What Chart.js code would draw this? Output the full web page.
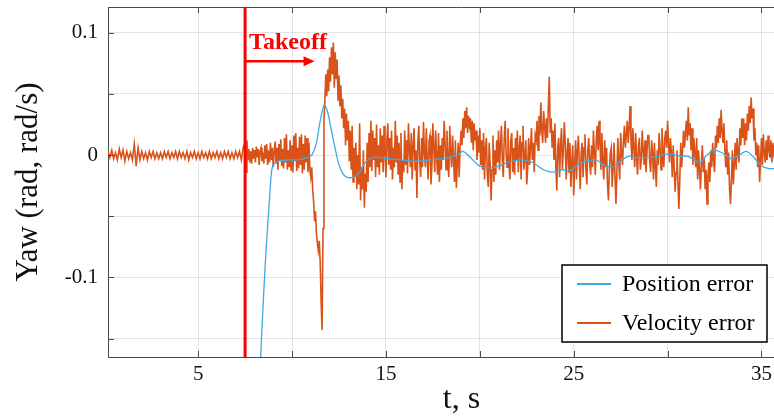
<!DOCTYPE html>
<html>
<head>
<meta charset="utf-8">
<script src="https://cdn.jsdelivr.net/npm/chart.js@4"></script>
<style>
  html, body { margin: 0; padding: 0; background: #fff; overflow: hidden; }
  #wrap { width: 774px; height: 419px; overflow: hidden; }
  canvas { display: block; }
</style>
</head>
<body>
<div id="wrap"><canvas id="chart" width="815" height="419"></canvas></div>
<script>
// position error (t, rad)
const posT = [8.1, 8.2, 8.33, 8.5, 8.65, 8.8, 8.9, 9.0, 9.3, 9.8, 10.3, 10.8, 11.05, 11.3, 11.5, 11.72, 11.9, 12.1, 12.3, 12.5, 12.7, 12.9, 13.3, 13.6, 13.9, 14.3, 14.7, 15.2, 15.8, 16.5, 17.3, 18.3, 18.8, 19.1, 19.5, 19.9, 20.2, 20.8, 21.5, 22.2, 22.8, 23.4, 23.9, 24.4, 24.8, 25.2, 25.7, 26.2, 26.6, 27.0, 27.4, 27.9, 28.4, 28.9, 29.5, 30.0, 30.7, 31.1, 31.7, 32.1, 32.5, 33.0, 33.4, 33.8, 34.2, 34.6, 35.0, 35.4, 35.8];
const posErr = [-0.26, -0.21, -0.165, -0.11, -0.07, -0.036, -0.015, -0.008, -0.005, -0.004, -0.004, -0.002, 0.0, 0.01, 0.028, 0.041, 0.035, 0.02, 0.005, -0.008, -0.015, -0.018, -0.018, -0.014, -0.006, -0.002, -0.002, -0.003, -0.004, -0.005, -0.004, -0.002, 0.0, 0.003, -0.002, -0.008, -0.010, -0.010, -0.006, -0.004, -0.006, -0.012, -0.014, -0.012, -0.013, -0.008, -0.005, -0.004, -0.008, -0.010, -0.006, -0.001, -0.002, -0.002, -0.001, 0.001, -0.001, -0.001, -0.006, 0.0, 0.004, 0.001, -0.003, 0.0, 0.003, -0.002, -0.009, -0.011, -0.011];

// velocity error on the ground, every 0.1 s from t = 0.2 s
const groundT0 = 0.2;
const groundDt = 0.1;
const velErrGround = [
  0.003, -0.002, 0.004, -0.003, 0.002, -0.004, 0.005, -0.002,
  0.004, -0.005, 0.003, -0.003, 0.002, -0.004, 0.009, -0.009, 0.006, -0.004,
  0.003, -0.003, 0.002, -0.004, 0.003, -0.002, 0.003, -0.003, 0.002, -0.003,
  0.002, -0.003, 0.003, -0.002, 0.003, -0.003, 0.002, -0.002, 0.003, -0.003,
  0.003, -0.002, 0.002, -0.003, 0.003, -0.004, 0.002, -0.002, 0.003, -0.003,
  0.002, -0.003, 0.003, -0.002, 0.002, -0.003, 0.003, -0.003, 0.002, -0.002,
  0.003, -0.003, 0.002, -0.003, 0.003, -0.002, 0.003, -0.003, 0.002, -0.003,
  0.003, -0.002, 0.003, -0.004, 0.006
];

// velocity error in flight, every 0.05 s from t = 7.5 s
const flightT0 = 7.5;
const flightDt = 0.05;
const velErrFlight = [
  0.010, -0.014, 0.012, -0.004, 0.005, -0.006, 0.003, -0.007, 0.006, -0.003,
  0.004, -0.006, 0.007, -0.002, 0.005, -0.008, 0.003, 0.006, -0.005, 0.002,
  -0.007, 0.008, -0.003, 0.009, -0.008, 0.004, -0.006, 0.010, -0.004, 0.006,
  -0.010, 0.003, 0.011, -0.007, 0.006, -0.012, 0.009, -0.004, 0.013, -0.009,
  0.005, -0.011, 0.014, -0.006, 0.017, -0.012, 0.004, -0.010, 0.012, -0.013,
  0.008, -0.014, 0.016, -0.005, 0.018, -0.013, 0.006, -0.011, 0.015, -0.008,
  0.017, -0.015, 0.009, -0.012, 0.016, -0.006, 0.014, -0.014, 0.010, -0.012,
  -0.018, -0.010, -0.028, -0.038, -0.054, -0.046, -0.064, -0.072, -0.078, -0.070,
  -0.088, -0.120, -0.143, -0.060, 0.028, 0.045, 0.066, 0.048, 0.070, 0.052,
  0.080, 0.060, 0.088, 0.066, 0.092, 0.055, 0.084, 0.062, 0.078, 0.045,
  0.065, 0.040, 0.057, 0.030, 0.046, 0.022, 0.038, 0.008, 0.034, 0.012,
  0.028, -0.005, 0.020, -0.012, 0.024, -0.022, 0.006, -0.018, 0.010, -0.028,
  0.000, -0.024, 0.026, -0.037, -0.010, -0.028, 0.004, -0.043, -0.015, -0.030,
  0.010, -0.022, 0.018, -0.010, 0.028, -0.013, 0.020, -0.004, 0.014, -0.018,
  0.025, -0.010, 0.008, -0.016, 0.022, -0.006, 0.016, -0.014, 0.024, 0.002,
  -0.018, 0.012, 0.026, -0.008, 0.014, -0.012, 0.020, -0.020, 0.006, -0.010,
  0.028, -0.006, 0.016, -0.016, 0.010, -0.022, 0.018, -0.028, -0.004, -0.014,
  0.020, -0.008, 0.012, -0.015, 0.026, 0.004, -0.010, 0.018, -0.020, 0.008,
  0.022, -0.012, 0.004, -0.035, 0.010, 0.024, -0.006, -0.018, 0.014, -0.010,
  0.027, 0.002, -0.010, 0.022, -0.004, -0.020, 0.012, 0.016, -0.024, -0.008,
  0.026, 0.006, -0.014, 0.020, -0.002, -0.016, 0.018, -0.022, 0.008, -0.012,
  0.014, -0.004, 0.028, 0.010, -0.012, 0.020, -0.006, -0.018, 0.024, 0.002,
  -0.010, 0.016, -0.004, -0.022, 0.012, -0.027, -0.008, 0.010, -0.018, 0.006,
  0.020, 0.008, 0.030, 0.014, 0.036, 0.022, 0.039, 0.018, 0.032, 0.024,
  0.030, 0.010, 0.028, 0.004, 0.026, 0.012, 0.020, -0.004, 0.016, 0.002,
  0.022, -0.008, 0.012, -0.012, 0.018, -0.020, 0.006, 0.014, -0.016, -0.026,
  0.010, -0.008, -0.037, -0.012, 0.016, -0.022, 0.004, -0.016, 0.012, -0.006,
  0.020, -0.012, 0.008, 0.024, -0.004, -0.018, 0.014, 0.028, 0.002, -0.010,
  0.022, -0.006, -0.020, 0.012, 0.018, -0.014, 0.006, -0.016, 0.014, -0.004,
  0.020, -0.014, 0.004, 0.016, -0.020, 0.010, 0.024, -0.012, -0.002, 0.012,
  -0.024, -0.010, 0.014, -0.008, 0.006, 0.022, -0.004, 0.010, -0.014, 0.016,
  0.012, 0.028, 0.004, 0.032, 0.016, 0.043, 0.020, 0.010, 0.036, 0.024,
  0.010, 0.030, 0.014, 0.040, 0.064, 0.018, 0.030, 0.006, 0.020, -0.004,
  0.026, -0.010, -0.029, 0.006, 0.014, -0.018, 0.008, 0.022, -0.012, 0.004,
  0.027, 0.010, -0.020, 0.002, 0.014, -0.014, 0.010, -0.026, -0.006, 0.008,
  -0.033, -0.010, 0.012, -0.020, 0.004, 0.016, -0.008, -0.028, 0.002, 0.010,
  -0.018, 0.006, 0.017, -0.012, -0.024, 0.004, 0.014, -0.006, -0.016, 0.008,
  -0.010, 0.020, 0.002, -0.016, 0.012, 0.024, 0.004, 0.028, 0.010, -0.012,
  0.018, -0.006, -0.020, 0.012, -0.010, 0.006, -0.024, -0.037, -0.012, 0.002,
  0.006, -0.026, -0.010, 0.010, -0.018, -0.040, -0.014, 0.014, -0.006, -0.020,
  0.018, 0.002, -0.008, 0.012, 0.024, 0.006, 0.016, 0.028, 0.010, 0.022,
  0.040, 0.012, -0.004, 0.022, 0.006, -0.010, 0.018, -0.002, -0.016, 0.008,
  0.014, -0.012, -0.004, 0.020, 0.004, -0.008, 0.012, -0.014, 0.002, 0.016,
  0.016, -0.006, -0.014, 0.012, 0.002, -0.020, 0.010, -0.010, -0.026, 0.004,
  -0.008, 0.018, 0.006, -0.012, 0.022, 0.004, -0.010, 0.014, 0.020, 0.006,
  0.028, 0.010, -0.006, 0.014, 0.002, -0.018, 0.008, -0.010, -0.030, -0.014,
  0.004, -0.022, -0.044, -0.020, 0.010, -0.010, 0.004, 0.020, 0.006, 0.018,
  0.028, 0.012, 0.039, 0.016, 0.026, 0.004, 0.022, -0.008, 0.014, 0.002,
  -0.010, 0.014, -0.020, 0.004, -0.012, -0.028, -0.006, 0.008, -0.014, -0.002,
  -0.028, -0.012, -0.040, -0.018, -0.006, -0.022, 0.004, -0.010, 0.010, -0.004,
  -0.014, 0.016, 0.006, 0.024, 0.010, 0.030, 0.014, 0.037, 0.020, 0.010,
  0.026, 0.004, -0.010, 0.012, -0.016, 0.002, -0.028, -0.040, -0.020, 0.004,
  -0.024, -0.008, 0.010, -0.012, 0.014, 0.002, -0.006, 0.022, 0.008, 0.030,
  0.014, 0.030, 0.008, 0.026, 0.012, 0.034, 0.020, 0.040, 0.026, 0.047,
  0.030, 0.038, 0.012, 0.022, 0.000, 0.010, -0.010, 0.008, -0.022, -0.004,
  0.014, -0.008, 0.017, 0.002, -0.006, 0.012, -0.004, 0.016, 0.004, -0.002,
  0.012, -0.006, 0.010, 0.002, 0.008
];

const seriesNames = ['Position error', 'Velocity error'];
const seriesColors = ['#3fa9e6', '#d95319'];

// takeoff marker
const takeoffTime = 7.5;
const arrowEndTime = 11.2;
const arrowLevel = 0.0766;
const takeoffLabel = 'Takeoff';
const takeoffLabelLevel = 0.087;

const xLabelTicks = [5, 15, 25, 35];
const yLabelTicks = [-0.1, 0, 0.1];

const serif = "'Liberation Serif', 'Times New Roman', serif";

const posData = posT.map((t, i) => ({ x: t, y: posErr[i] }));
const velData = velErrGround.map((v, i) => ({ x: +(groundT0 + i * groundDt).toFixed(2), y: v }))
  .concat(velErrFlight.map((v, i) => ({ x: +(flightT0 + i * flightDt).toFixed(2), y: v })));

// takeoff line + arrow, top axis line, inner tick marks, legend box
const extras = {
  id: 'extras',
  afterDatasetsDraw(chart) {
    const { ctx, chartArea: a, scales: { x, y } } = chart;
    ctx.save();
    ctx.beginPath();
    ctx.rect(a.left, a.top, a.right - a.left, a.bottom - a.top);
    ctx.clip();
    const tx = x.getPixelForValue(takeoffTime);
    ctx.strokeStyle = '#ff0000';
    ctx.lineWidth = 3;
    ctx.beginPath();
    ctx.moveTo(tx, a.top);
    ctx.lineTo(tx, a.bottom);
    ctx.stroke();

    const ay = y.getPixelForValue(arrowLevel);
    const ax = x.getPixelForValue(arrowEndTime);
    ctx.lineWidth = 2.5;
    ctx.beginPath();
    ctx.moveTo(tx, ay);
    ctx.lineTo(ax - 8, ay);
    ctx.stroke();
    ctx.fillStyle = '#ff0000';
    ctx.beginPath();
    ctx.moveTo(ax, ay);
    ctx.lineTo(ax - 11, ay - 5);
    ctx.lineTo(ax - 11, ay + 5);
    ctx.closePath();
    ctx.fill();

    ctx.font = 'bold 24px ' + serif;
    ctx.textAlign = 'left';
    ctx.textBaseline = 'alphabetic';
    ctx.fillText(takeoffLabel, tx + 4, y.getPixelForValue(takeoffLabelLevel));
    ctx.restore();
  },
  afterDraw(chart) {
    const { ctx, chartArea: a, scales: { x, y } } = chart;
    ctx.save();
    ctx.strokeStyle = '#4a4a4a';
    ctx.lineWidth = 1;
    ctx.beginPath();
    ctx.moveTo(a.left, a.top + 0.5);
    ctx.lineTo(a.right, a.top + 0.5);
    x.ticks.forEach(t => {
      const px = Math.round(x.getPixelForValue(t.value)) + 0.5;
      ctx.moveTo(px, a.top);
      ctx.lineTo(px, a.top + 6);
      ctx.moveTo(px, a.bottom);
      ctx.lineTo(px, a.bottom - 6);
    });
    y.ticks.forEach(t => {
      const py = Math.round(y.getPixelForValue(t.value)) + 0.5;
      ctx.moveTo(a.left, py);
      ctx.lineTo(a.left + 6, py);
    });
    ctx.stroke();

    // legend
    const bx = 562, by = 265, bw = 205, bh = 77;
    ctx.fillStyle = '#fff';
    ctx.fillRect(bx, by, bw, bh);
    ctx.strokeStyle = '#000';
    ctx.lineWidth = 1.5;
    ctx.strokeRect(bx, by, bw, bh);
    ctx.font = '24px ' + serif;
    ctx.textAlign = 'left';
    ctx.textBaseline = 'middle';
    chart.data.datasets.forEach((ds, i) => {
      const ly = by + 19 + i * 39;
      ctx.strokeStyle = ds.borderColor;
      ctx.lineWidth = 2;
      ctx.beginPath();
      ctx.moveTo(bx + 15, ly);
      ctx.lineTo(bx + 49, ly);
      ctx.stroke();
      ctx.fillStyle = '#000';
      ctx.fillText(ds.label, bx + 60, ly + 1);
    });
    ctx.restore();
  }
};

new Chart(document.getElementById('chart'), {
  type: 'line',
  data: {
    datasets: [
      {
        label: seriesNames[0],
        data: posData,
        borderColor: seriesColors[0],
        borderWidth: 1.3,
        pointRadius: 0,
        tension: 0.3
      },
      {
        label: seriesNames[1],
        data: velData,
        borderColor: seriesColors[1],
        borderWidth: 1.6,
        pointRadius: 0,
        tension: 0
      }
    ]
  },
  options: {
    responsive: false,
    animation: false,
    devicePixelRatio: 1,
    layout: { padding: { top: 7, right: 0, left: 0, bottom: 0 } },
    plugins: {
      legend: { display: false },
      tooltip: { enabled: false }
    },
    scales: {
      x: {
        type: 'linear',
        min: 0.2,
        max: 37.85,
        afterFit(scale) {
          scale.height = 62;
          scale.paddingLeft = 0;
          scale.paddingRight = 0;
        },
        ticks: {
          stepSize: 5,
          includeBounds: false,
          maxRotation: 0,
          autoSkip: false,
          padding: 5,
          color: '#111',
          font: { family: serif, size: 21 },
          callback: v => xLabelTicks.includes(v) ? String(v) : ''
        },
        grid: { color: 'rgba(0,0,0,0.11)', drawTicks: false },
        border: { display: true, color: '#4a4a4a', width: 1 },
        title: {
          display: true,
          text: 't, s',
          color: '#111',
          font: { family: serif, size: 32 },
          padding: { top: 0, bottom: 0 }
        }
      },
      y: {
        min: -0.165,
        max: 0.121,
        afterFit(scale) {
          scale.width = 108;
          scale.paddingTop = 0;
          scale.paddingBottom = 0;
        },
        ticks: {
          stepSize: 0.05,
          includeBounds: false,
          padding: 10,
          color: '#111',
          font: { family: serif, size: 21 },
          callback: v => yLabelTicks.some(l => Math.abs(l - v) < 1e-9) ? (Math.abs(v) < 1e-9 ? '0' : v.toFixed(1)) : ''
        },
        grid: { color: 'rgba(0,0,0,0.11)', drawTicks: false },
        border: { display: true, color: '#4a4a4a', width: 1 },
        title: {
          display: true,
          text: 'Yaw (rad, rad/s)',
          color: '#111',
          font: { family: serif, size: 31 },
          padding: { top: 10, bottom: 0 }
        }
      }
    }
  },
  plugins: [extras]
});
</script>
</body>
</html>
